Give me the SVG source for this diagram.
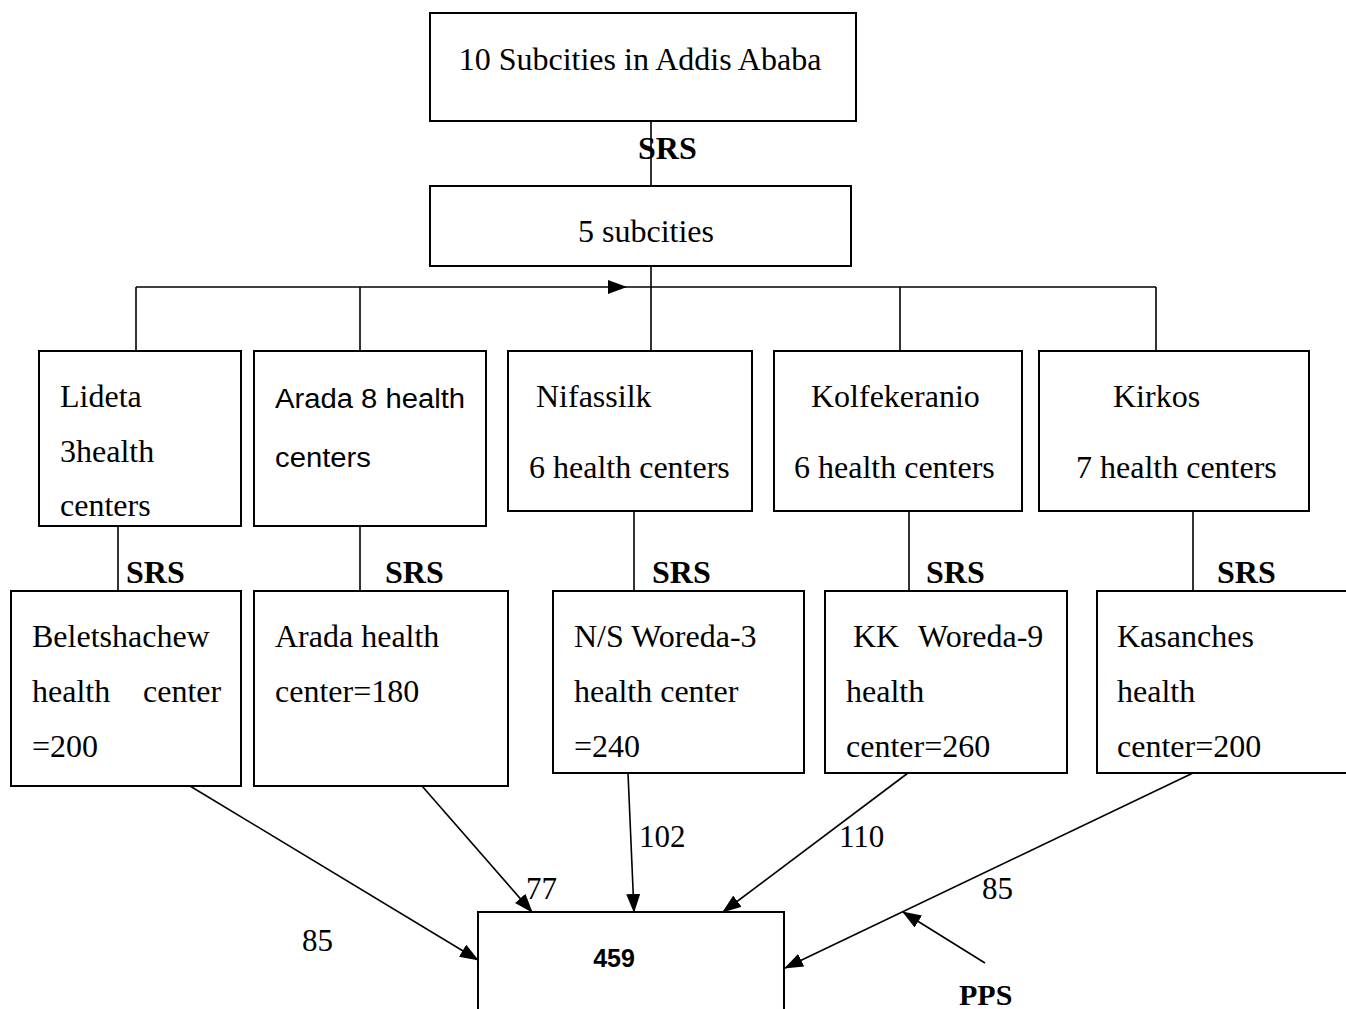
<svg xmlns="http://www.w3.org/2000/svg" width="1346" height="1009" viewBox="0 0 1346 1009">
<style>
.box{fill:#fff;stroke:#000;stroke-width:2}
.t{font-family:"Liberation Serif","Times New Roman",serif;font-size:32px;fill:#000}
.s{font-family:"Liberation Sans",Arial,sans-serif;font-size:27px;fill:#000}
.b{font-family:"Liberation Serif","Times New Roman",serif;font-size:32px;font-weight:bold;fill:#000}
.n{font-family:"Liberation Serif","Times New Roman",serif;font-size:31px;fill:#000}
.c{stroke:#000;stroke-width:1.6;fill:none}
</style>
<defs>
<marker id="ah" markerUnits="userSpaceOnUse" markerWidth="19" markerHeight="14" refX="18" refY="7" orient="auto">
<path d="M0,0 L19,7 L0,14 z" fill="#000"/>
</marker>
</defs>
<rect width="1346" height="1009" fill="#fff"/>
<g id="connectors">
<line class="c" x1="651" y1="121" x2="651" y2="186"/>
<line class="c" x1="651" y1="266" x2="651" y2="351"/>
<line class="c" x1="136" y1="287" x2="626" y2="287" marker-end="url(#ah)"/>
<line class="c" x1="626" y1="287" x2="1156" y2="287"/>
<line class="c" x1="136" y1="287" x2="136" y2="351"/>
<line class="c" x1="360" y1="287" x2="360" y2="351"/>
<line class="c" x1="900" y1="287" x2="900" y2="351"/>
<line class="c" x1="1156" y1="287" x2="1156" y2="351"/>
<line class="c" x1="118" y1="526" x2="118" y2="591"/>
<line class="c" x1="360" y1="526" x2="360" y2="591"/>
<line class="c" x1="634" y1="511" x2="634" y2="598"/>
<line class="c" x1="909" y1="511" x2="909" y2="591"/>
<line class="c" x1="1193" y1="507" x2="1193" y2="598"/>
<line class="c" x1="190" y1="786" x2="478" y2="960" marker-end="url(#ah)"/>
<line class="c" x1="422" y1="786" x2="532" y2="912" marker-end="url(#ah)"/>
<line class="c" x1="628" y1="773" x2="634" y2="912" marker-end="url(#ah)"/>
<line class="c" x1="908" y1="773" x2="723" y2="912" marker-end="url(#ah)"/>
<line class="c" x1="1193" y1="773" x2="785" y2="968" marker-end="url(#ah)"/>
<line class="c" x1="985" y1="963" x2="903" y2="912" marker-end="url(#ah)"/>
<text class="b" x="638" y="159">SRS</text>
<text class="b" x="126" y="583">SRS</text>
<text class="b" x="385" y="583">SRS</text>
<text class="b" x="652" y="583">SRS</text>
<text class="b" x="926" y="583">SRS</text>
<text class="b" x="1217" y="583">SRS</text>
<text class="n" x="302" y="951">85</text>
<text class="n" x="526" y="899">77</text>
<text class="n" x="639" y="847">102</text>
<text class="n" x="839" y="847">110</text>
<text class="n" x="982" y="899">85</text>
<text class="b" x="959" y="1005" style="font-size:30px">PPS</text>
</g>
<g id="n-top"><rect class="box" x="430" y="13" width="426" height="108"/><text class="t" x="640" y="70" text-anchor="middle">10 Subcities in Addis Ababa</text></g>
<g id="n-five"><rect class="box" x="430" y="186" width="421" height="80"/><text class="t" x="646" y="242" text-anchor="middle">5 subcities</text></g>
<g id="n-lideta"><rect class="box" x="39" y="351" width="202" height="175"/><text class="t" x="60" y="407">Lideta</text><text class="t" x="60" y="462">3health</text><text class="t" x="60" y="516">centers</text></g>
<g id="n-arada"><rect class="box" x="254" y="351" width="232" height="175"/><text class="s" x="275" y="408" textLength="190" lengthAdjust="spacingAndGlyphs">Arada 8 health</text><text class="s" x="275" y="467" textLength="96" lengthAdjust="spacingAndGlyphs">centers</text></g>
<g id="n-nifassilk"><rect class="box" x="508" y="351" width="244" height="160"/><text class="t" x="536" y="407">Nifassilk</text><text class="t" x="529" y="478">6 health centers</text></g>
<g id="n-kolfe"><rect class="box" x="774" y="351" width="248" height="160"/><text class="t" x="811" y="407">Kolfekeranio</text><text class="t" x="794" y="478">6 health centers</text></g>
<g id="n-kirkos"><rect class="box" x="1039" y="351" width="270" height="160"/><text class="t" x="1113" y="407">Kirkos</text><text class="t" x="1076" y="478">7 health centers</text></g>
<g id="n-belet"><rect class="box" x="11" y="591" width="230" height="195"/><text class="t" x="32" y="647">Beletshachew</text><text class="t" y="702"><tspan x="32">health</tspan><tspan x="143">center</tspan></text><text class="t" x="32" y="757">=200</text></g>
<g id="n-aradahc"><rect class="box" x="254" y="591" width="254" height="195"/><text class="t" x="275" y="647">Arada health</text><text class="t" x="275" y="702">center=180</text></g>
<g id="n-ns"><rect class="box" x="553" y="591" width="251" height="182"/><text class="t" x="574" y="647">N/S Woreda-3</text><text class="t" x="574" y="702">health center</text><text class="t" x="574" y="757">=240</text></g>
<g id="n-kk"><rect class="box" x="825" y="591" width="242" height="182"/><text class="t" y="647"><tspan x="853">KK</tspan><tspan x="918">Woreda-9</tspan></text><text class="t" x="846" y="702">health</text><text class="t" x="846" y="757">center=260</text></g>
<g id="n-kasanches"><rect class="box" x="1097" y="591" width="262" height="182"/><text class="t" x="1117" y="647">Kasanches</text><text class="t" x="1117" y="702">health</text><text class="t" x="1117" y="757">center=200</text></g>
<g id="n-total"><rect class="box" x="478" y="912" width="306" height="110"/><text x="614" y="967" text-anchor="middle" style="font-family:'Liberation Sans',Arial,sans-serif;font-size:25px;font-weight:bold">459</text></g>
</svg>
